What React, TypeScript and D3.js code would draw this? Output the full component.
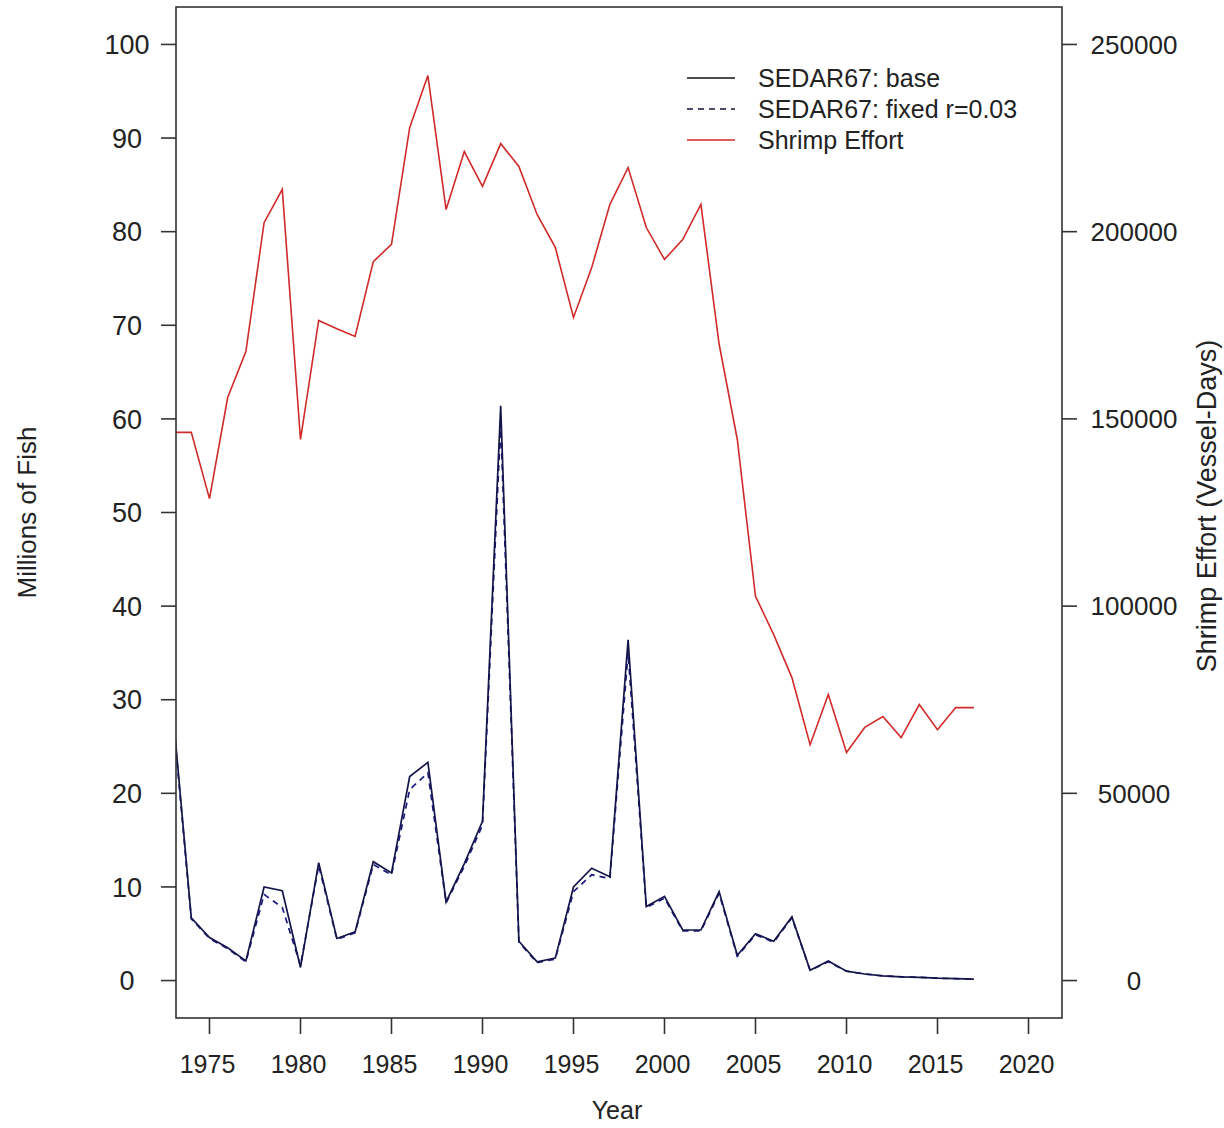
import React, { useEffect, useRef } from 'react';
import * as d3 from 'd3';

const years = d3.range(1973, 2018);

// SEDAR67 base run (millions of fish)
const baseValues = [
  28.5, 6.7, 4.6, 3.5, 2.1, 10.0, 9.6, 1.4, 12.6, 4.5,
  5.2, 12.7, 11.5, 21.8, 23.3, 8.4, 12.5, 17.0, 61.4, 4.2,
  2.0, 2.4, 10.0, 12.0, 11.1, 36.4, 7.9, 9.0, 5.4, 5.4,
  9.5, 2.7, 5.0, 4.2, 6.8, 1.1, 2.1, 1.0, 0.7, 0.5,
  0.4, 0.35, 0.25, 0.2, 0.15
];

// SEDAR67 fixed r=0.03 run
const fixedValues = [
  28.0, 6.6, 4.5, 3.4, 2.0, 9.2, 7.8, 1.6, 12.3, 4.4,
  5.1, 12.4, 11.3, 20.4, 22.2, 8.3, 12.2, 16.6, 59.5, 4.1,
  1.9, 2.3, 9.5, 11.3, 10.9, 35.0, 7.8, 8.8, 5.3, 5.3,
  9.3, 2.6, 4.9, 4.1, 6.7, 1.1, 2.0, 1.0, 0.7, 0.5,
  0.4, 0.35, 0.25, 0.2, 0.15
];

// Shrimp effort (vessel-days)
const effortValues = [
  146400, 146400, 128700, 155700, 168000, 202400, 211300, 144500, 176300, 174100,
  172000, 192000, 196600, 227800, 241700, 205900, 221400, 212100, 223500, 217400,
  204600, 195800, 177100, 190400, 207300, 217100, 201100, 192600, 197900, 207300,
  170000, 144500, 102600, 92400, 80900, 63000, 76400, 60900, 67600, 70500,
  64900, 73700, 67000, 72900, 72900
];

const xTicks = [1975, 1980, 1985, 1990, 1995, 2000, 2005, 2010, 2015, 2020];
const leftTicks = [0, 10, 20, 30, 40, 50, 60, 70, 80, 90, 100];
const rightTicks = [0, 50000, 100000, 150000, 200000, 250000];

const legendItems = [
  { label: 'SEDAR67: base', color: '#111111', dash: null },
  { label: 'SEDAR67: fixed r=0.03', color: '#111133', dash: '6,5' },
  { label: 'Shrimp Effort', color: '#d02a2a', dash: null },
];

const App = () => {
  const ref = useRef(null);

  useEffect(() => {
    document.body.style.margin = '0';
    const W = 1224, H = 1128;
    const left = 176, right = 1062, top = 7, bottom = 1018;
    const font = '"Liberation Sans", Arial, sans-serif';

    d3.select(ref.current).selectAll('*').remove();
    const svg = d3.select(ref.current)
      .append('svg')
      .attr('width', W)
      .attr('height', H)
      .style('display', 'block')
      .style('background', '#fff');

    const x = d3.scaleLinear().domain([1973.16, 2021.84]).range([left, right]);
    const yL = d3.scaleLinear().domain([-4, 104]).range([bottom, top]);
    const yR = d3.scaleLinear().domain([-10000, 260000]).range([bottom, top]);

    svg.append('clipPath').attr('id', 'plotclip')
      .append('rect')
      .attr('x', left).attr('y', top)
      .attr('width', right - left).attr('height', bottom - top);

    const plot = svg.append('g').attr('clip-path', 'url(#plotclip)');

    const lineL = d3.line<number>().x((d, i) => x(years[i])).y(d => yL(d));
    const lineR = d3.line<number>().x((d, i) => x(years[i])).y(d => yR(d));

    plot.append('path').datum(effortValues)
      .attr('d', lineR).attr('fill', 'none')
      .attr('stroke', '#d02a2a').attr('stroke-width', 1.6);

    plot.append('path').datum(fixedValues)
      .attr('d', lineL).attr('fill', 'none')
      .attr('stroke', '#1a1a80').attr('stroke-width', 1.7)
      .attr('stroke-dasharray', '6,5');

    plot.append('path').datum(baseValues)
      .attr('d', lineL).attr('fill', 'none')
      .attr('stroke', '#15154a').attr('stroke-width', 1.7);

    // box
    svg.append('rect')
      .attr('x', left).attr('y', top)
      .attr('width', right - left).attr('height', bottom - top)
      .attr('fill', 'none').attr('stroke', '#333').attr('stroke-width', 1.6);

    // left axis
    const gL = svg.append('g');
    leftTicks.forEach(t => {
      gL.append('line')
        .attr('x1', left - 15).attr('x2', left)
        .attr('y1', yL(t)).attr('y2', yL(t))
        .attr('stroke', '#333').attr('stroke-width', 1.6);
      gL.append('text')
        .attr('x', 127).attr('y', yL(t))
        .attr('dy', '0.36em')
        .attr('text-anchor', 'middle')
        .style('font-family', font).style('font-size', '27px')
        .attr('fill', '#222')
        .text(t);
    });

    // right axis
    const gR = svg.append('g');
    rightTicks.forEach(t => {
      gR.append('line')
        .attr('x1', right).attr('x2', right + 15)
        .attr('y1', yR(t)).attr('y2', yR(t))
        .attr('stroke', '#333').attr('stroke-width', 1.6);
      gR.append('text')
        .attr('x', 1134).attr('y', yR(t))
        .attr('dy', '0.36em')
        .attr('text-anchor', 'middle')
        .style('font-family', font).style('font-size', '26px')
        .attr('fill', '#222')
        .text(t);
    });

    // bottom axis
    const gB = svg.append('g');
    xTicks.forEach(t => {
      gB.append('line')
        .attr('x1', x(t)).attr('x2', x(t))
        .attr('y1', bottom).attr('y2', bottom + 16)
        .attr('stroke', '#333').attr('stroke-width', 1.6);
      gB.append('text')
        .attr('x', x(t) - 2).attr('y', 1073)
        .attr('text-anchor', 'middle')
        .style('font-family', font).style('font-size', '25px')
        .attr('fill', '#222')
        .text(t);
    });

    // axis titles
    svg.append('text')
      .attr('x', (left + right) / 2 - 2).attr('y', 1119)
      .attr('text-anchor', 'middle')
      .style('font-family', font).style('font-size', '25px')
      .attr('fill', '#222')
      .text('Year');

    svg.append('text')
      .attr('transform', `translate(36,${(top + bottom) / 2}) rotate(-90)`)
      .attr('text-anchor', 'middle')
      .style('font-family', font).style('font-size', '26px')
      .attr('fill', '#222')
      .text('Millions of Fish');

    svg.append('text')
      .attr('transform', `translate(1216,506) rotate(-90)`)
      .attr('text-anchor', 'middle')
      .style('font-family', font).style('font-size', '27px')
      .attr('fill', '#222')
      .text('Shrimp Effort (Vessel-Days)');

    // legend
    const lg = svg.append('g');
    legendItems.forEach((d, i) => {
      const ly = 78 + i * 31;
      lg.append('line')
        .attr('x1', 687).attr('x2', 735)
        .attr('y1', ly).attr('y2', ly)
        .attr('stroke', d.color).attr('stroke-width', 1.6)
        .attr('stroke-dasharray', d.dash);
      lg.append('text')
        .attr('x', 758).attr('y', ly)
        .attr('dy', '0.36em')
        .style('font-family', font).style('font-size', '25px')
        .attr('fill', '#222')
        .text(d.label);
    });
  }, []);

  return <div ref={ref} />;
};

export default App;
